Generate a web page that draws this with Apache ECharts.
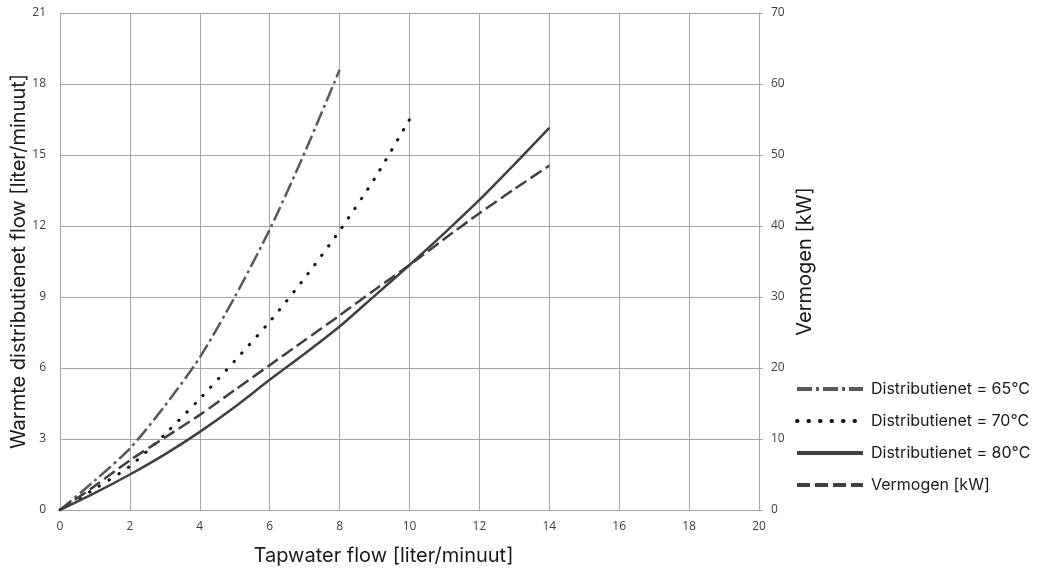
<!DOCTYPE html>
<html>
<head>
<meta charset="utf-8">
<script src="https://cdn.jsdelivr.net/npm/echarts@6/dist/echarts.min.js"></script>
<style>
html,body{margin:0;padding:0;background:#fff;}
#chart{width:1045px;height:569px;}
</style>
</head>
<body>
<div id="chart"></div>
<script>
// Tapwater flow [liter/minuut]
const flowX = [0, 1, 2, 3, 4, 5, 6, 7, 8, 9, 10, 11, 12, 13, 14];
// Warmte distributienet flow [liter/minuut]
const dist65 = [0, 1.25, 2.6, 4.4, 6.45, 9.0, 11.85, 15.1, 18.6];
const dist70 = [0, 0.9, 1.85, 3.2, 4.7, 6.3, 7.96, 9.8, 11.8, 14.0, 16.5];
const dist80 = [0, 0.72, 1.5, 2.35, 3.3, 4.35, 5.5, 6.6, 7.75, 9.05, 10.35, 11.7, 13.1, 14.6, 16.15];
// Vermogen [kW]
const vermogen = [0, 3.4, 7.0, 10.2, 13.4, 16.9, 20.4, 23.9, 27.4, 31.0, 34.5, 38.2, 41.8, 45.2, 48.5];

const seriesNames = ['Distributienet = 65°C', 'Distributienet = 70°C', 'Distributienet = 80°C', 'Vermogen [kW]'];

function pairs(ys) { return ys.map((y, i) => [flowX[i], y]); }

const gridColor = '#a6a6a6';
const tickFont = { fontFamily: 'Open Sans', fontSize: 12, color: '#404040' };
const nameFont = { fontFamily: 'Inter', fontSize: 20, color: '#1a1a1a' };

const chart = echarts.init(document.getElementById('chart'));
chart.setOption({
  animation: false,
  backgroundColor: '#fff',
  grid: { left: 60, right: 286, top: 13, bottom: 59, containLabel: false, outerBoundsMode: 'none' },
  legend: {
    orient: 'vertical',
    left: 790,
    top: 376,
    itemWidth: 66,
    itemHeight: 14,
    itemGap: 16,
    itemStyle: { opacity: 0 },
    lineStyle: { width: 4 },
    textStyle: { fontFamily: 'Inter', fontSize: 16, color: '#1a1a1a', padding: [0, 0, 0, 3] },
    data: seriesNames
  },
  xAxis: {
    type: 'value', min: 0, max: 20, interval: 2,
    name: 'Tapwater flow [liter/minuut]', nameLocation: 'middle', nameGap: 36, nameMoveOverlap: false,
    nameTextStyle: Object.assign({}, nameFont, { padding: [0, 52, 0, 0] }),
    axisLine: { show: true, lineStyle: { color: gridColor, width: 1 } },
    axisTick: { show: false },
    axisLabel: Object.assign({ margin: 11 }, tickFont),
    splitLine: { show: true, lineStyle: { color: gridColor, width: 1 } }
  },
  yAxis: [
    {
      type: 'value', min: 0, max: 21, interval: 3, position: 'left',
      name: 'Warmte distributienet flow [liter/minuut]', nameLocation: 'middle', nameGap: 31, nameMoveOverlap: false,
      nameTextStyle: nameFont,
      axisLine: { show: true, lineStyle: { color: gridColor, width: 1 } },
      axisTick: { show: false },
      axisLabel: Object.assign({ margin: 14 }, tickFont),
      splitLine: { show: true, lineStyle: { color: gridColor, width: 1 } }
    },
    {
      type: 'value', min: 0, max: 70, interval: 10, position: 'right',
      name: 'Vermogen [kW]', nameLocation: 'middle', nameGap: 36, nameMoveOverlap: false,
      nameTextStyle: nameFont,
      axisLine: { show: true, lineStyle: { color: gridColor, width: 1 } },
      axisTick: { show: true, length: 4, lineStyle: { color: gridColor } },
      axisLabel: Object.assign({ margin: 12 }, tickFont),
      splitLine: { show: false }
    }
  ],
  series: [
    {
      name: seriesNames[0], type: 'line', yAxisIndex: 0, data: pairs(dist65),
      smooth: 0.25, showSymbol: false, symbol: 'none',
      lineStyle: { color: '#595959', width: 2.5, type: [15, 4, 3, 4] },
      itemStyle: { color: '#595959' }
    },
    {
      name: seriesNames[1], type: 'line', yAxisIndex: 0, data: pairs(dist70),
      smooth: 0.25, showSymbol: false, symbol: 'none',
      lineStyle: { color: '#111111', width: 3, type: [0.5, 11], cap: 'round' },
      itemStyle: { color: '#111111' }
    },
    {
      name: seriesNames[2], type: 'line', yAxisIndex: 0, data: pairs(dist80),
      smooth: 0.25, showSymbol: false, symbol: 'none',
      lineStyle: { color: '#404040', width: 2.5, type: 'solid' },
      itemStyle: { color: '#404040' }
    },
    {
      name: seriesNames[3], type: 'line', yAxisIndex: 1, data: pairs(vermogen),
      smooth: 0.25, showSymbol: false, symbol: 'none',
      lineStyle: { color: '#404040', width: 2.5, type: [13, 5] },
      itemStyle: { color: '#404040' }
    }
  ]
});
</script>
</body>
</html>
